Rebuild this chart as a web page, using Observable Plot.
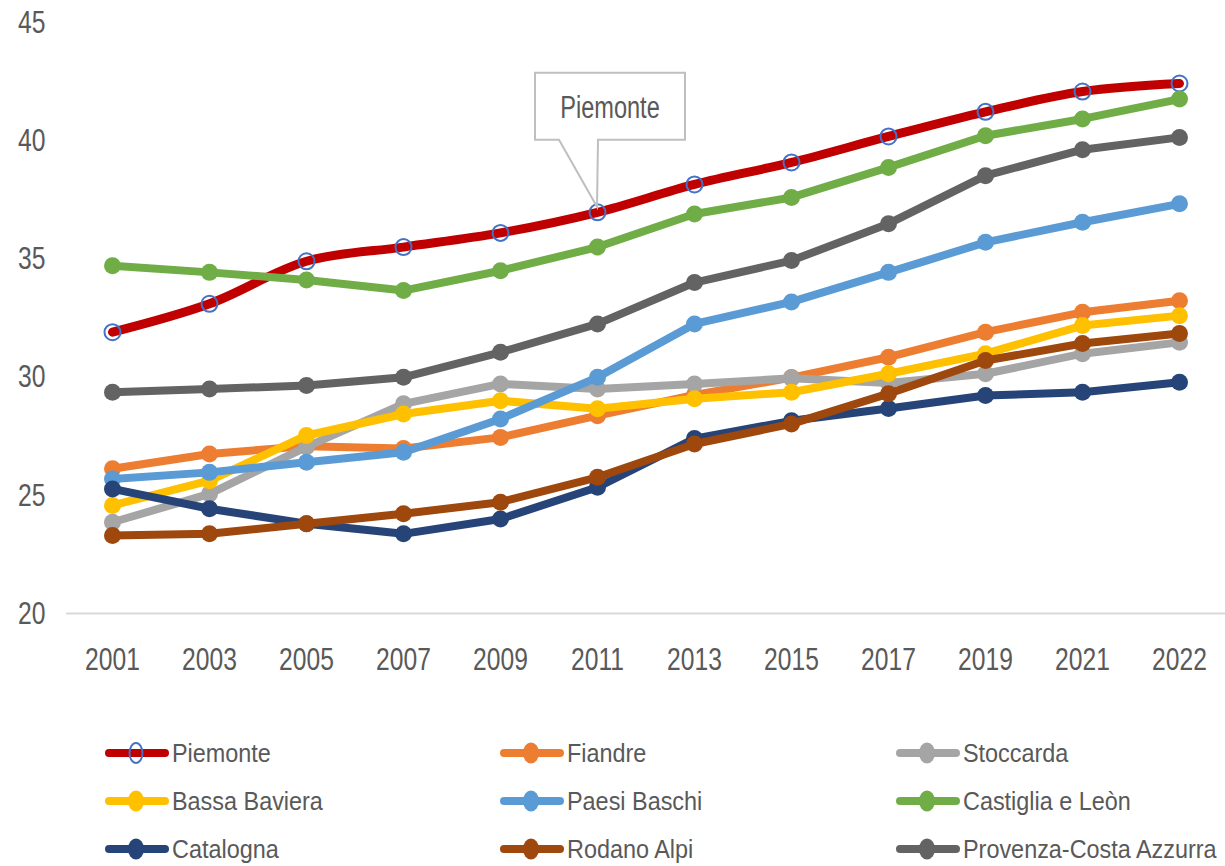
<!DOCTYPE html>
<html>
<head>
<meta charset="utf-8">
<script src="https://cdn.jsdelivr.net/npm/d3@7"></script>
<script src="https://cdn.jsdelivr.net/npm/@observablehq/plot@0.6"></script>
<style>
  html, body { margin: 0; padding: 0; background: #fff; overflow: hidden; }
  #wrap { position: relative; width: 1225px; height: 866px; }
  #legend { position: absolute; left: 0; top: 700px; width: 1225px; height: 166px; }
  .item { position: absolute; display: flex; align-items: center; height: 30px;
          font-family: "Liberation Sans", Arial, sans-serif;
          font-size: 26px; color: #595959; white-space: nowrap; }
  .item svg { display: block; margin-right: 3px; flex: none; }
  .item span { display: inline-block; transform: scaleX(0.9); transform-origin: 0 50%; }
</style>
</head>
<body>
<div id="wrap"><div id="chart"></div><div id="legend"></div></div>
<script>
const years = ["2001","2003","2005","2007","2009","2011","2013","2015","2017","2019","2021","2022"];
const seriesNames = ["Piemonte","Fiandre","Stoccarda","Bassa Baviera","Paesi Baschi","Castiglia e Leòn","Catalogna","Rodano Alpi","Provenza-Costa Azzurra"];
const seriesColors = ["#C00000","#ED7D31","#A5A5A5","#FFC000","#5B9BD5","#70AD47","#264478","#9E480E","#636363"];
const piemonte     = [31.9, 33.1, 34.9, 35.5, 36.1, 36.97, 38.15, 39.08, 40.18, 41.22, 42.08, 42.42];
const fiandre      = [26.12, 26.75, 27.08, 26.98, 27.45, 28.37, 29.25, 29.98, 30.84, 31.9, 32.74, 33.23];
const stoccarda    = [23.86, 25.06, 27.05, 28.87, 29.71, 29.5, 29.71, 29.95, 29.75, 30.14, 30.99, 31.47];
const bassaBaviera = [24.57, 25.62, 27.53, 28.44, 29.0, 28.66, 29.08, 29.36, 30.14, 30.99, 32.18, 32.6];
const paesiBaschi  = [25.69, 25.97, 26.4, 26.82, 28.23, 29.99, 32.25, 33.18, 34.43, 35.7, 36.55, 37.33];
const castiglia    = [34.71, 34.43, 34.11, 33.66, 34.5, 35.5, 36.9, 37.6, 38.87, 40.21, 40.92, 41.76];
const catalogna    = [25.27, 24.43, 23.8, 23.37, 24.0, 25.34, 27.4, 28.15, 28.67, 29.22, 29.36, 29.78];
const rodano       = [23.3, 23.37, 23.8, 24.22, 24.71, 25.76, 27.17, 28.02, 29.3, 30.7, 31.42, 31.84];
const provenza     = [29.36, 29.5, 29.64, 29.99, 31.05, 32.25, 34.0, 34.93, 36.49, 38.52, 39.62, 40.14];
const yTicks = [20, 25, 30, 35, 40, 45];
const calloutYear = "2011";
const calloutText = "Piemonte";

const seriesValues = [piemonte, fiandre, stoccarda, bassaBaviera, paesiBaschi, castiglia, catalogna, rodano, provenza];
const series = seriesNames.map((name, i) => ({
  name, color: seriesColors[i],
  data: years.map((year, j) => ({year, value: seriesValues[i][j], name}))
}));

const FONT = '"Liberation Sans", Arial, sans-serif';

const marks = [Plot.ruleY([20], {stroke: "#D9D9D9", strokeWidth: 2})];
series.forEach((s, i) => {
  if (i === 0) {
    marks.push(Plot.line(s.data, {x: "year", y: "value", stroke: s.color, strokeWidth: 9, curve: "catmull-rom"}));
    marks.push(Plot.dot(s.data, {x: "year", y: "value", r: 8, stroke: "#4472C4", strokeWidth: 2, fill: "none"}));
  } else {
    marks.push(Plot.line(s.data, {x: "year", y: "value", stroke: s.color, strokeWidth: 8}));
    marks.push(Plot.dot(s.data, {x: "year", y: "value", r: 8.5, fill: s.color}));
  }
});

const plot = Plot.plot({
  width: 1225,
  height: 700,
  marginLeft: 66,
  marginRight: 0,
  marginTop: 22,
  marginBottom: 87,
  style: {fontFamily: FONT, fontSize: "32px", color: "#595959", background: "#fff"},
  x: {type: "point", domain: years, padding: 0.47, tickSize: 0, tickPadding: 34, label: null},
  y: {domain: [20, 45], ticks: yTicks, tickSize: 0, tickPadding: 21, label: null},
  marks
});
document.getElementById("chart").appendChild(plot);

// Narrow the text horizontally (Calibri-like condensed look) without moving it
function narrow(el, k) {
  const len = el.getComputedTextLength();
  if (len > 0) {
    el.setAttribute("textLength", (len * k).toFixed(2));
    el.setAttribute("lengthAdjust", "spacingAndGlyphs");
  }
}
d3.select(plot).selectAll("text").each(function() { narrow(this, 0.77); });

// Callout for Piemonte anchored to the data point
const xs = plot.scale("x"), ys = plot.scale("y");
const px = xs.apply(calloutYear);
const py = ys.apply(piemonte[years.indexOf(calloutYear)]);
const svg = d3.select(plot);
const pts = [[-62,-139],[88,-139],[88,-72],[1,-72],[0,-5],[-38,-72],[-62,-72]]
  .map(([dx, dy]) => [px + dx, py + dy]);
svg.append("path")
  .attr("d", "M" + pts.map(p => p.join(",")).join("L") + "Z")
  .attr("fill", "#fff").attr("stroke", "#BFBFBF").attr("stroke-width", 2);
const ct = svg.append("text")
  .attr("x", px + 13).attr("y", py - 94)
  .attr("text-anchor", "middle")
  .attr("font-family", FONT).attr("font-size", 31).attr("fill", "#595959")
  .text(calloutText);
narrow(ct.node(), 0.76);

// Legend below the chart
const legend = document.getElementById("legend");
const colLeft = [105, 500, 896];
const rowCenter = [53, 101, 149];
series.forEach((s, i) => {
  const col = i % 3, row = Math.floor(i / 3);
  const div = document.createElement("div");
  div.className = "item";
  div.style.left = colLeft[col] + "px";
  div.style.top = (rowCenter[row] - 15) + "px";
  const marker = i === 0
    ? `<ellipse cx="31" cy="12" rx="6.5" ry="10" fill="none" stroke="#4472C4" stroke-width="2"/>`
    : `<ellipse cx="31" cy="12" rx="8" ry="10.5" fill="${s.color}"/>`;
  div.innerHTML = `<svg width="64" height="24"><line x1="4" x2="60" y1="12" y2="12" stroke="${s.color}" stroke-width="8" stroke-linecap="round"/>${marker}</svg><span>${s.name}</span>`;
  legend.appendChild(div);
});
</script>
</body>
</html>
